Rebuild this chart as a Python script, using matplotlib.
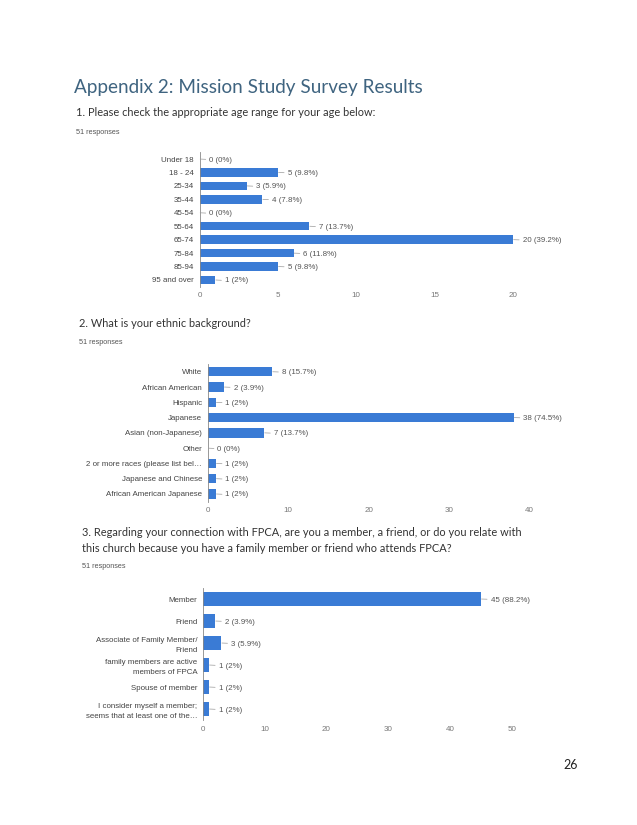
import matplotlib.pyplot as plt

plt.rcParams['font.family'] = ['Lato', 'DejaVu Sans']

# Question 1: age ranges
ages = ['Under 18', '18 - 24', '25-34', '35-44', '45-54', '55-64', '65-74',
        '75-84', '85-94', '95 and over']
age_counts = [0, 5, 3, 4, 0, 7, 20, 6, 5, 1]
age_pcts = ['0%', '9.8%', '5.9%', '7.8%', '0%', '13.7%', '39.2%', '11.8%', '9.8%', '2%']

# Question 2: ethnic background
ethnic = ['White', 'African American', 'Hispanic', 'Japanese', 'Asian (non-Japanese)',
          'Other', '2 or more races (please list bel\u2026', 'Japanese and Chinese',
          'African American Japanese']
ethnic_counts = [8, 2, 1, 38, 7, 0, 1, 1, 1]
ethnic_pcts = ['15.7%', '3.9%', '2%', '74.5%', '13.7%', '0%', '2%', '2%', '2%']

# Question 3: connection with FPCA
conn = ['Member', 'Friend', 'Associate of Family Member/\nFriend',
        'family members are active\nmembers of FPCA', 'Spouse of member',
        'I consider myself a member;\nseems that at least one of the\u2026']
conn_counts = [45, 2, 3, 1, 1, 1]
conn_pcts = ['88.2%', '3.9%', '5.9%', '2%', '2%', '2%']

bar_color = '#3a7bd5'
W, H = 637, 825
chart_font = ['Liberation Sans', 'DejaVu Sans']


def bar_chart(rect, cats, counts, pcts, xmax, ticks, bar_h):
    ax = fig.add_axes(rect)
    y = list(range(len(cats)))
    ax.barh(y, counts, height=bar_h, color=bar_color)
    ax.set_ylim(len(cats) - 0.5, -0.5)
    ax.set_xlim(0, xmax)
    ax.set_yticks(y)
    labs = ax.set_yticklabels(cats, fontsize=5.7, color='#444444', family=chart_font)
    for t in labs:
        if '\n' in t.get_text():
            t.set_linespacing(1.6)
    ax.set_xticks(ticks)
    ax.set_xticklabels([str(t) for t in ticks], fontsize=5.8, color='#777777',
                       family=chart_font)
    ax.tick_params(axis='both', length=0, pad=4)
    for s in ['top', 'right', 'bottom']:
        ax.spines[s].set_visible(False)
    ax.spines['left'].set_color('#888888')
    ax.spines['left'].set_linewidth(0.6)
    for i, (c, p) in enumerate(zip(counts, pcts)):
        ax.annotate('%d (%s)' % (c, p), xy=(c, i), xytext=(7, 0),
                    textcoords='offset points', va='center_baseline', ha='left',
                    fontsize=5.7, color='#555555', family=chart_font,
                    arrowprops=dict(arrowstyle='-', color='#999999', lw=0.5,
                                    shrinkA=0.5, shrinkB=0.5))
    return ax


fig = plt.figure(figsize=(6.37, 8.25), dpi=100)

fig.text(74 / W, 1 - 88 / H, 'Appendix 2: Mission Study Survey Results',
         fontsize=13.6, color='#3f6480', va='center', ha='left')

q_size = 7.9
fig.text(76 / W, 1 - 112 / H, '1. Please check the appropriate age range for your age below:',
         fontsize=q_size, color='#333333', va='center')
fig.text(76 / W, 1 - 132 / H, '51 responses', fontsize=5.2, color='#555555', va='center',
         family=chart_font)

fig.text(79 / W, 1 - 323 / H, '2. What is your ethnic background?',
         fontsize=q_size, color='#333333', va='center')
fig.text(79 / W, 1 - 343 / H, '51 responses', fontsize=5.2, color='#555555', va='center',
         family=chart_font)

fig.text(82 / W, 1 - 533 / H,
         '3. Regarding your connection with FPCA, are you a member, a friend, or do you relate with',
         fontsize=q_size, color='#333333', va='center')
fig.text(82 / W, 1 - 549 / H,
         'this church because you have a family member or friend who attends FPCA?',
         fontsize=q_size, color='#333333', va='center')
fig.text(82 / W, 1 - 567 / H, '51 responses', fontsize=5.2, color='#555555', va='center',
         family=chart_font)

# chart 1: 0 at x=199.5px, 15.67 px/unit, rows 159..280
bar_chart([199.5 / W, 1 - 286.7 / H, 22 * 15.67 / W, 134.4 / H],
          ages, age_counts, age_pcts, 22, [0, 5, 10, 15, 20], 0.63)

# chart 2: 0 at x=207.7px, 8.05 px/unit, rows 371.7..494
bar_chart([207.7 / W, 1 - 501.6 / H, 42 * 8.05 / W, 137.5 / H],
          ethnic, ethnic_counts, ethnic_pcts, 42, [0, 10, 20, 30, 40], 0.62)

# chart 3: 0 at x=202.7px, 6.18 px/unit, rows 599..709
bar_chart([202.7 / W, 1 - 720 / H, 55 * 6.18 / W, 132 / H],
          conn, conn_counts, conn_pcts, 55, [0, 10, 20, 30, 40, 50], 0.68)

fig.text(571 / W, 1 - 765 / H, '26', fontsize=9, color='#222222', va='center', ha='center')

fig.savefig('out.png', dpi=100)
